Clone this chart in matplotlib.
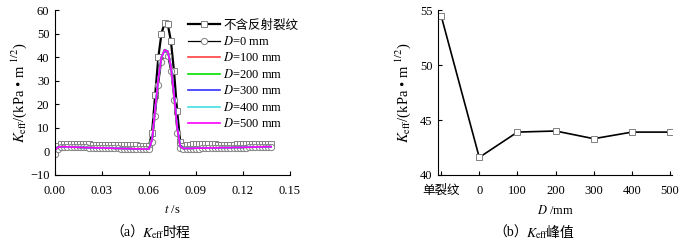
import numpy as np
import matplotlib
matplotlib.use('Agg')
import matplotlib.pyplot as plt

plt.rcParams['font.family'] = ['Liberation Serif', 'Noto Sans CJK SC']
plt.rcParams['mathtext.fontset'] = 'stix'

# time grid (s), 0.002 s step
t = np.arange(0, 0.1381, 0.002)

# single crack, no reflective crack
k_single = [0.5, 2.5, 3.2, 3.3, 3.3, 3.2, 3.2, 3.1, 3.1, 3.0,
            3.0, 3.0, 2.9, 2.9, 2.9, 2.8, 2.8, 2.8, 2.8, 2.7,
            2.7, 2.7, 2.7, 2.8, 2.8, 2.7, 2.6, 2.5, 2.4, 2.3,
            2.2, 8.0, 24.0, 40.0, 50.0, 54.5, 54.0, 47.0, 34.0, 17.0,
            4.0, 2.5, 2.6, 2.8, 3.0, 3.2, 3.3, 3.3, 3.2, 3.1,
            3.0, 3.0, 2.9, 2.9, 2.9, 2.9, 2.9, 2.9, 3.0, 3.0,
            3.0, 3.1, 3.1, 3.2, 3.2, 3.3, 3.3, 3.3, 3.3, 3.3]
# D = 0
k_d0 = [-1.0, 1.0, 1.8, 2.0, 2.0, 1.9, 1.9, 1.8, 1.8, 1.7,
        1.7, 1.6, 1.6, 1.5, 1.5, 1.5, 1.4, 1.4, 1.3, 1.3,
        1.3, 1.2, 1.2, 1.2, 1.1, 1.1, 1.1, 1.0, 1.0, 1.0,
        1.0, 4.0, 15.0, 28.0, 38.0, 41.0, 40.5, 34.0, 22.0, 8.0,
        1.5, 1.0, 1.1, 1.1, 1.2, 1.2, 1.2, 1.3, 1.3, 1.3,
        1.3, 1.4, 1.4, 1.4, 1.4, 1.5, 1.5, 1.5, 1.5, 1.6,
        1.6, 1.6, 1.7, 1.7, 1.7, 1.8, 1.8, 1.8, 1.8, 1.8]
# D = 100 ... 500 mm
k_dx = [
    [0.5, 1.8, 2.0, 2.0, 1.9, 1.9, 1.8, 1.8, 1.7, 1.7,
     1.6, 1.6, 1.6, 1.5, 1.5, 1.5, 1.4, 1.4, 1.4, 1.3,
     1.3, 1.3, 1.2, 1.2, 1.2, 1.1, 1.1, 1.1, 1.0, 1.0,
     1.0, 5.0, 18.0, 31.0, 40.0, 43.0, 42.5, 36.0, 24.0, 10.0,
     2.0, 1.2, 1.3, 1.3, 1.3, 1.4, 1.4, 1.4, 1.4, 1.5,
     1.5, 1.5, 1.5, 1.6, 1.6, 1.6, 1.6, 1.7, 1.7, 1.7,
     1.7, 1.8, 1.8, 1.8, 1.9, 1.9, 1.9, 2.0, 2.0, 2.0],
    [0.5, 1.8, 2.0, 2.0, 1.9, 1.9, 1.8, 1.8, 1.7, 1.7,
     1.6, 1.6, 1.6, 1.5, 1.5, 1.5, 1.4, 1.4, 1.4, 1.3,
     1.3, 1.3, 1.2, 1.2, 1.2, 1.1, 1.1, 1.1, 1.0, 1.0,
     1.0, 5.0, 18.0, 31.0, 40.0, 43.2, 42.6, 36.0, 24.0, 10.0,
     2.0, 1.2, 1.3, 1.3, 1.3, 1.4, 1.4, 1.4, 1.4, 1.5,
     1.5, 1.5, 1.5, 1.6, 1.6, 1.6, 1.6, 1.7, 1.7, 1.7,
     1.7, 1.8, 1.8, 1.8, 1.9, 1.9, 1.9, 2.0, 2.0, 2.0],
    [0.5, 1.8, 2.0, 2.0, 1.9, 1.9, 1.8, 1.8, 1.7, 1.7,
     1.6, 1.6, 1.6, 1.5, 1.5, 1.5, 1.4, 1.4, 1.4, 1.3,
     1.3, 1.3, 1.2, 1.2, 1.2, 1.1, 1.1, 1.1, 1.0, 1.0,
     1.0, 5.0, 18.0, 31.0, 40.0, 42.8, 42.3, 36.5, 25.0, 11.0,
     2.5, 1.2, 1.3, 1.3, 1.3, 1.4, 1.4, 1.4, 1.4, 1.5,
     1.5, 1.5, 1.5, 1.6, 1.6, 1.6, 1.6, 1.7, 1.7, 1.7,
     1.7, 1.8, 1.8, 1.8, 1.9, 1.9, 1.9, 2.0, 2.0, 2.0],
    [0.5, 1.8, 2.0, 2.0, 1.9, 1.9, 1.8, 1.8, 1.7, 1.7,
     1.6, 1.6, 1.6, 1.5, 1.5, 1.5, 1.4, 1.4, 1.4, 1.3,
     1.3, 1.3, 1.2, 1.2, 1.2, 1.1, 1.1, 1.1, 1.0, 1.0,
     1.0, 5.0, 18.0, 31.0, 40.0, 43.1, 42.5, 36.0, 24.0, 10.0,
     2.0, 1.2, 1.3, 1.3, 1.3, 1.4, 1.4, 1.4, 1.4, 1.5,
     1.5, 1.5, 1.5, 1.6, 1.6, 1.6, 1.6, 1.7, 1.7, 1.7,
     1.7, 1.8, 1.8, 1.8, 1.9, 1.9, 1.9, 2.0, 2.0, 2.0],
    [0.5, 1.8, 2.0, 2.0, 1.9, 1.9, 1.8, 1.8, 1.7, 1.7,
     1.6, 1.6, 1.6, 1.5, 1.5, 1.5, 1.4, 1.4, 1.4, 1.3,
     1.3, 1.3, 1.2, 1.2, 1.2, 1.1, 1.1, 1.1, 1.0, 1.0,
     1.0, 5.0, 18.0, 31.0, 40.0, 43.1, 42.5, 36.0, 24.0, 10.0,
     2.0, 1.2, 1.3, 1.3, 1.3, 1.4, 1.4, 1.4, 1.4, 1.5,
     1.5, 1.5, 1.5, 1.6, 1.6, 1.6, 1.6, 1.7, 1.7, 1.7,
     1.7, 1.8, 1.8, 1.8, 1.9, 1.9, 1.9, 2.0, 2.0, 2.0],
]
d_labels = ['100', '200', '300', '400', '500']
d_colors = ['#ff4040', '#00e000', '#3030ff', '#40e0e0', '#ff00ff']

# peak values
peak_cats = ['单裂纹', '0', '100', '200', '300', '400', '500']
peak_vals = [54.5, 41.6, 43.9, 44.0, 43.3, 43.9, 43.9]

fig = plt.figure(figsize=(6.87, 2.47), dpi=100)
ax1 = fig.add_axes([0.080, 0.2915, 0.342, 0.668])
ax2 = fig.add_axes([0.6376, 0.2915, 0.3406, 0.668])

fs = 9
ylab = r'$K_{\mathrm{eff}}$/(kPa • m $^{1/2}$)'

# (a)
ax1.plot(t, k_single, color='black', lw=1.6, marker='s', ms=4.5,
         mfc='white', mec='#808080', mew=0.7, label='不含反射裂纹')
ax1.plot(t, k_d0, color='black', lw=0.9, marker='o', ms=4.5,
         mfc='white', mec='#808080', mew=0.7, label=r'$D$=0 mm')
for vals, lab, c in zip(k_dx, d_labels, d_colors):
    ax1.plot(t, vals, color=c, lw=1.2, label=r'$D$=' + lab + ' mm')
ax1.set_xlim(0, 0.15)
ax1.set_ylim(-10, 60)
ax1.set_xticks(np.arange(0, 0.151, 0.03))
ax1.set_xticklabels(['0.00', '0.03', '0.06', '0.09', '0.12', '0.15'])
ax1.set_yticks(range(-10, 61, 10))
ax1.set_xlabel(r'$t$ /s', fontsize=fs, labelpad=5)
ax1.set_ylabel(ylab, fontsize=10.5, labelpad=1)
leg = ax1.legend(loc='upper left', bbox_to_anchor=(182 / 687, 1 - 13 / 247),
                 bbox_transform=fig.transFigure, frameon=False, fontsize=fs,
                 handlelength=2.5, labelspacing=0.28, borderpad=0,
                 handletextpad=0.3)

# (b)
xp = np.arange(len(peak_cats))
ax2.plot(xp, peak_vals, color='black', lw=1.2, marker='s', ms=4.5,
         mfc='white', mec='#808080', mew=0.7)
ax2.set_xlim(-0.08, 6.05)
ax2.set_ylim(40, 55)
ax2.set_xticks(xp)
ax2.set_xticklabels(peak_cats)
ax2.set_yticks([40, 45, 50, 55])
ax2.set_xlabel(r'$D$ /mm', fontsize=fs, labelpad=5)
ax2.set_ylabel(ylab, fontsize=10.5, labelpad=5)

for ax in (ax1, ax2):
    ax.spines['top'].set_visible(False)
    ax.spines['right'].set_visible(False)
    ax.tick_params(direction='in', length=3, width=0.8, labelsize=fs)
    ax.tick_params(axis='x', pad=7)
    ax.tick_params(axis='y', pad=4)

# captions: mathtext cannot fall back to CJK, so put pieces side by side
renderer = fig.canvas.get_renderer()
inv = fig.transFigure.inverted()


def caption(x, pieces, y=1 - 237 / 247, size=10):
    for s in pieces:
        txt = fig.text(x, y, s, ha='left', va='baseline', fontsize=size)
        bb = txt.get_window_extent(renderer)
        x = inv.transform((bb.x1 - 2, bb.y0))[0]


caption(110 / 687, ['（a）', r'$K_{\mathrm{eff}}$', '时程'])
caption(493 / 687, ['（b）', r'$K_{\mathrm{eff}}$', '峰值'])

fig.savefig('out.png', dpi=100)
